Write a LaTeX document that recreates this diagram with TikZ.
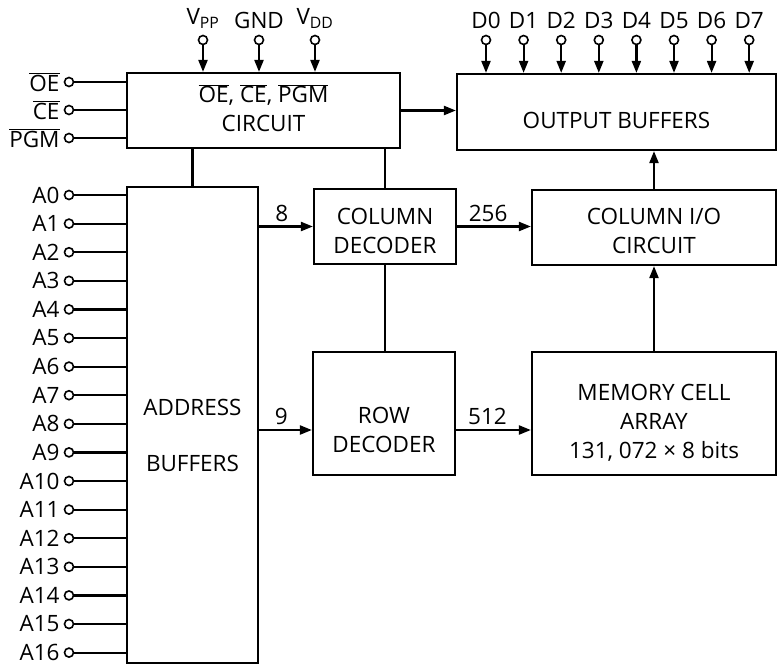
\documentclass[tikz,border=0pt]{standalone}
\usepackage{fontspec}
\setmainfont{Open Sans}
\usetikzlibrary{
  arrows.meta,
  positioning,
  calc
}
\newcommand{\ovbar}[1]{$\overline{\mbox{#1}}$}
\newcommand{\blockfont}{\fontsize{22.5}{29}\selectfont}
\tikzset{
  blockbox/.style={
    draw,
    line width=2.2pt,
    inner sep=0pt
  },
  blocktext/.style={align=center,font=\blockfont,inner sep=0pt},
  pincircle/.style={circle,draw,line width=1.6pt,fill=white,minimum size=9pt,inner sep=0pt},
  pinlabel/.style={font=\blockfont,inner sep=0pt},
  wire/.style={line width=2.2pt},
  sigarrow/.style={wire,-{Triangle[length=12pt,width=9pt]}},
  buslabel/.style={font=\blockfont,above=4pt,pos=0.42,inner sep=0pt},
}

\begin{document}
\begin{tikzpicture}[x=1pt,y=-1pt]
  \useasboundingbox (0,0) rectangle (777,665);

  \node[blockbox,minimum width=273pt,minimum height=75pt] (ctrl) at (263.5,110.5) {};
  \node[blocktext] (ctrltxt) at (263.5,108) {\ovbar{OE}, \ovbar{CE}, \ovbar{PGM}\\CIRCUIT};
  \node[blockbox,minimum width=319pt,minimum height=76pt] (outbuf) at (616.5,112) {};
  \node[blocktext] (outbuftxt) at (616.5,120) {OUTPUT BUFFERS};
  \node[blockbox,minimum width=131pt,minimum height=476pt] (addr) at (192.5,425) {};
  \node[blocktext] (addrtxt) at (192.5,435) {ADDRESS\\[27pt]BUFFERS};
  \node[blockbox,minimum width=142pt,minimum height=75pt] (coldec) at (385,226.5) {};
  \node[blocktext] (coldectxt) at (385,230.5) {COLUMN\\DECODER};
  \node[blockbox,minimum width=244pt,minimum height=75pt] (colio) at (654,227.5) {};
  \node[blocktext] (coliotxt) at (654,230.5) {COLUMN I/O\\CIRCUIT};
  \node[blockbox,minimum width=142pt,minimum height=123pt] (rowdec) at (384,413.5) {};
  \node[blocktext] (rowdectxt) at (384,430) {ROW\\DECODER};
  \node[blockbox,minimum width=244pt,minimum height=123pt] (mem) at (654,413.5) {};
  \node[blocktext] (memtxt) at (654,423) {MEMORY CELL\\ARRAY\\131, 072 × 8 bits};

  % control inputs
  \foreach \n/\t/\y in {poe/OE/82, pce/CE/110, ppgm/PGM/138} {
    \node[pincircle] (\n) at (69,\y) {};
    \node[pinlabel,left=4pt of \n] (l\n) {\ovbar{\t}};
    \draw[wire] (\n) -- (\n -| ctrl.west);
  }
  % address inputs
  \foreach \i in {0,...,16} {
    \node[pincircle] (a\i) at (69,{195+28.6*\i}) {};
    \node[pinlabel,left=4pt of a\i] (la\i) {A\i};
    \draw[wire] (a\i) -- (a\i -| addr.west);
  }
  % supply pins
  \foreach \n/\t/\x in {vpp/V\textsubscript{PP}/203, gnd/GND/259, vdd/V\textsubscript{DD}/315} {
    \node[pincircle] (\n) at (\x,40) {};
    \node[pinlabel,above=6pt of \n] (l\n) {\t};
    \draw[sigarrow] (\n) -- (\n |- ctrl.north);
  }
  % data pins
  \foreach \i in {0,...,7} {
    \node[pincircle] (d\i) at ({486+37.6*\i},40) {};
    \node[pinlabel,above=6pt of d\i] (ld\i) {D\i};
    \draw[sigarrow] (d\i) -- (d\i |- outbuf.north);
  }

  \draw[sigarrow] (ctrl.east) -- (ctrl.east -| outbuf.west);
  \draw[wire] (addr.north |- ctrl.south) -- (addr.north);
  \draw[wire] (coldec.north |- ctrl.south) -- (coldec.north);
  \draw[sigarrow] (addr.east |- coldec.west) -- node[buslabel] {8} (coldec.west);
  \draw[sigarrow] (addr.east |- rowdectxt) -- node[buslabel] {9} (rowdec.west |- rowdectxt);
  \draw[sigarrow] (coldec.east) -- node[buslabel] {256} (coldec.east -| colio.west);
  \draw[sigarrow] (rowdec.east |- rowdectxt) -- node[buslabel] {512} (mem.west |- rowdectxt);
  \draw[wire] (coldec.south) -- (coldec.south |- rowdec.north);
  \draw[sigarrow] (mem.north) -- (colio.south);
  \draw[sigarrow] (colio.north) -- (colio.north |- outbuf.south);
\end{tikzpicture}
\end{document}
